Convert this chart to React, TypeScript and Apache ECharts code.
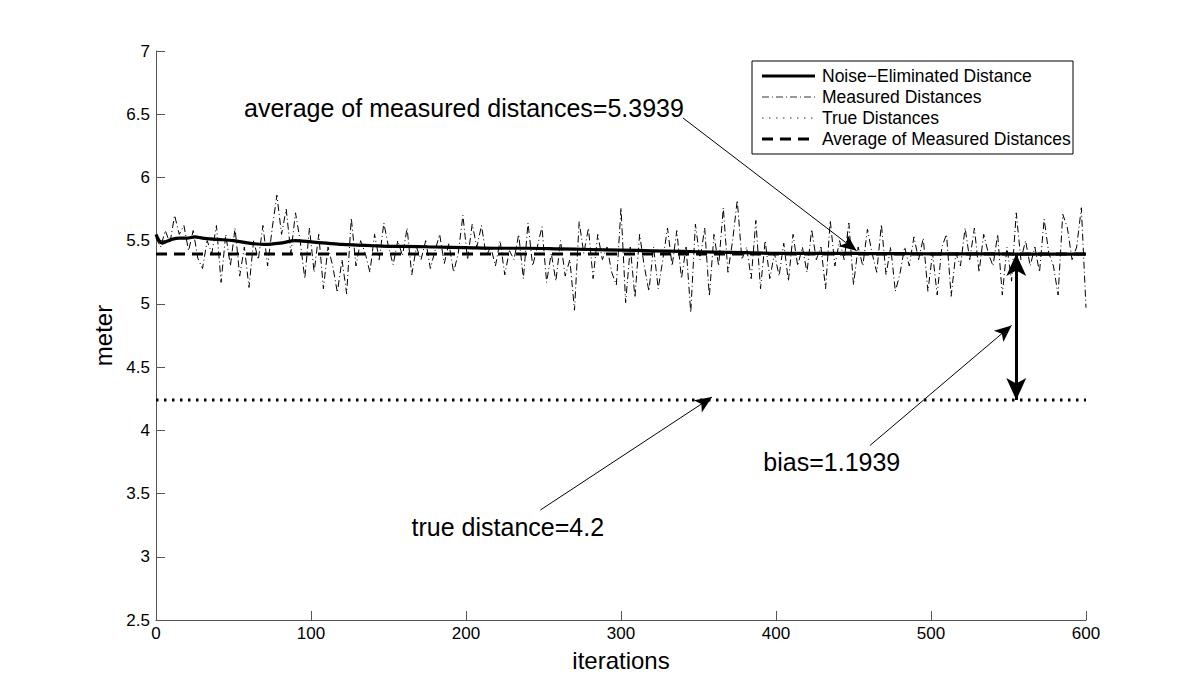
import React, { useEffect, useRef } from "react";
import * as echarts from "echarts";

// ---- data ----
const measuredStep = 3; // iterations between the sampled measured values
const measuredValues = [
  5.52, 5.45, 5.58, 5.48, 5.70, 5.55, 5.62, 5.42, 5.58, 5.36,
  5.28, 5.50, 5.40, 5.62, 5.17, 5.55, 5.30, 5.60, 5.22, 5.45,
  5.13, 5.50, 5.35, 5.62, 5.30, 5.60, 5.86, 5.55, 5.75, 5.40,
  5.72, 5.50, 5.20, 5.60, 5.25, 5.55, 5.12, 5.45, 5.30, 5.09,
  5.35, 5.08, 5.68, 5.30, 5.50, 5.40, 5.25, 5.55, 5.35, 5.64,
  5.45, 5.31, 5.50, 5.38, 5.60, 5.23, 5.45, 5.35, 5.50, 5.28,
  5.42, 5.55, 5.32, 5.48, 5.25, 5.40, 5.70, 5.35, 5.63, 5.45,
  5.62, 5.38, 5.45, 5.30, 5.50, 5.23, 5.42, 5.35, 5.55, 5.20,
  5.64, 5.30, 5.45, 5.61, 5.17, 5.40, 5.18, 5.50, 5.22, 5.35,
  4.95, 5.65, 5.40, 5.60, 5.20, 5.55, 5.35, 5.45, 5.25, 5.15,
  5.76, 5.01, 5.45, 5.05, 5.55, 5.30, 5.10, 5.45, 5.12, 5.35,
  5.60, 5.30, 5.58, 5.20, 5.45, 4.93, 5.63, 5.35, 5.60, 5.06,
  5.55, 5.30, 5.76, 5.25, 5.50, 5.82, 5.35, 5.45, 5.20, 5.66,
  5.12, 5.50, 5.20, 5.40, 5.22, 5.48, 5.18, 5.55, 5.30, 5.45,
  5.25, 5.59, 5.35, 5.45, 5.12, 5.66, 5.30, 5.50, 5.35, 5.64,
  5.15, 5.45, 5.30, 5.59, 5.40, 5.25, 5.63, 5.23, 5.45, 5.10,
  5.24, 5.45, 5.30, 5.53, 5.35, 5.52, 5.10, 5.40, 5.07, 5.45,
  5.55, 5.06, 5.40, 5.30, 5.60, 5.35, 5.60, 5.25, 5.55, 5.40,
  5.30, 5.55, 5.07, 5.45, 5.18, 5.72, 5.35, 5.50, 5.30, 5.45,
  5.25, 5.67, 5.40, 5.30, 5.07, 5.71, 5.60, 5.35, 5.45, 5.76,
  4.97,
];

const noiseIter = [
  0, 2, 4, 6, 8, 10, 15, 20, 25, 30, 40, 50, 60, 70, 80, 90, 100, 110, 120,
  130, 140, 150, 160, 180, 200, 220, 240, 260, 280, 300, 320, 340, 360, 380,
  400, 420, 440, 460, 480, 500, 520, 540, 560, 580, 600,
];
const noiseValues = [
  5.55, 5.5, 5.48, 5.49, 5.5, 5.51, 5.52, 5.52, 5.53, 5.52, 5.51, 5.5, 5.48,
  5.47, 5.48, 5.5, 5.49, 5.48, 5.47, 5.465, 5.46, 5.455, 5.455, 5.45, 5.445,
  5.44, 5.44, 5.435, 5.43, 5.425, 5.42, 5.415, 5.41, 5.405, 5.4, 5.4, 5.4,
  5.398, 5.397, 5.396, 5.395, 5.395, 5.394, 5.394, 5.394,
];

const xRange = [0, 600];
const trueDistance = 4.24;
const avgMeasured = 5.3939;
const biasIter = 555;

const legendNames = [
  "Noise\u2212Eliminated Distance",
  "Measured Distances",
  "True Distances",
  "Average of Measured Distances",
];

const FONT = "'Liberation Sans', Arial, Helvetica, sans-serif";

export default function App() {
  const ref = useRef<HTMLDivElement>(null);

  useEffect(() => {
    const chart = echarts.init(ref.current!, null, { renderer: "svg" });

    const measuredData = measuredValues.map((v, i) => [i * measuredStep, v]);
    const noiseData = noiseIter.map((x, i) => [x, noiseValues[i]]);

    const thinArrow = (from: number[], to: number[]) => [
      {
        coord: from,
        symbol: "none",
        lineStyle: { color: "#000", width: 1, type: "solid" },
      },
      { coord: to, symbol: "arrow", symbolSize: [11, 17] },
    ];

    const textPoint = (coord: number[], text: string) => ({
      coord,
      symbol: "rect",
      symbolSize: 0,
      label: {
        show: true,
        position: "inside",
        formatter: text,
        fontSize: 25,
        fontFamily: FONT,
        color: "#000",
      },
    });

    const legendY = [76, 97, 118, 139];
    const lx0 = 762;
    const lx1 = 815;

    const option: any = {
      animation: false,
      backgroundColor: "#fff",
      grid: { left: 156, top: 51, right: 114, bottom: 77, containLabel: false },
      xAxis: {
        type: "value",
        min: xRange[0],
        max: xRange[1],
        interval: 100,
        name: "iterations",
        nameLocation: "middle",
        nameGap: 28,
        nameTextStyle: { fontSize: 24, fontFamily: FONT, color: "#000" },
        axisLine: { show: true, lineStyle: { color: "#555", width: 1 } },
        axisTick: { show: true, inside: true, length: 9, lineStyle: { color: "#555" } },
        axisLabel: { fontSize: 17, fontFamily: FONT, color: "#000", margin: 5 },
        splitLine: { show: false },
      },
      yAxis: {
        type: "value",
        min: 2.5,
        max: 7,
        interval: 0.5,
        name: "meter",
        nameLocation: "middle",
        nameGap: 27,
        nameRotate: 90,
        nameTextStyle: { fontSize: 24, fontFamily: FONT, color: "#000" },
        axisLine: { show: true, lineStyle: { color: "#555", width: 1 } },
        axisTick: { show: true, inside: true, length: 9, lineStyle: { color: "#555" } },
        axisLabel: { fontSize: 17, fontFamily: FONT, color: "#000", margin: 6 },
        splitLine: { show: false },
      },
      series: [
        {
          name: legendNames[1],
          type: "line",
          data: measuredData,
          showSymbol: false,
          symbol: "none",
          lineStyle: { color: "#000", width: 1, type: [7, 3, 1, 3] },
          z: 2,
          silent: true,
        },
        {
          name: legendNames[2],
          type: "line",
          data: [
            [xRange[0], trueDistance],
            [xRange[1], trueDistance],
          ],
          symbol: "none",
          lineStyle: { color: "#000", width: 3, type: [2.5, 5.5] },
          z: 3,
          silent: true,
          markLine: {
            silent: true,
            animation: false,
            label: { show: false },
            data: [
              thinArrow([460.6, 3.88], [552, 4.83]),
              thinArrow([248, 3.37], [358.7, 4.263]),
              thinArrow([340, 6.47], [452, 5.42]),
              [
                {
                  coord: [biasIter, avgMeasured],
                  symbol: "arrow",
                  symbolSize: [15, 22],
                  lineStyle: { color: "#000", width: 3, type: "solid" },
                },
                { coord: [biasIter, trueDistance], symbol: "arrow", symbolSize: [15, 22] },
              ],
            ],
          },
          markPoint: {
            silent: true,
            animation: false,
            data: [
              textPoint([198.7, 6.547], "average of measured distances=5.3939"),
              textPoint([227, 3.235], "true distance=4.2"),
              textPoint([436, 3.749], "bias=1.1939"),
            ],
          },
        },
        {
          name: legendNames[3],
          type: "line",
          data: [
            [xRange[0], avgMeasured],
            [xRange[1], avgMeasured],
          ],
          symbol: "none",
          lineStyle: { color: "#000", width: 3, type: [11, 7] },
          z: 4,
          silent: true,
        },
        {
          name: legendNames[0],
          type: "line",
          data: noiseData,
          symbol: "none",
          smooth: 0.3,
          lineStyle: { color: "#000", width: 3.2 },
          z: 5,
          silent: true,
        },
      ],
      graphic: [
        {
          type: "rect",
          shape: { x: 752, y: 61, width: 321, height: 93 },
          style: { fill: "#fff", stroke: "#000", lineWidth: 1 },
          z: 100,
        },
        {
          type: "line",
          shape: { x1: lx0, y1: legendY[0], x2: lx1, y2: legendY[0] },
          style: { stroke: "#000", lineWidth: 3 },
          z: 101,
        },
        {
          type: "line",
          shape: { x1: lx0, y1: legendY[1], x2: lx1, y2: legendY[1] },
          style: { stroke: "#333", lineWidth: 1, lineDash: [7, 3, 1, 3] },
          z: 101,
        },
        {
          type: "line",
          shape: { x1: lx0, y1: legendY[2], x2: lx1, y2: legendY[2] },
          style: { stroke: "#333", lineWidth: 1, lineDash: [1.5, 5.5] },
          z: 101,
        },
        {
          type: "line",
          shape: { x1: lx0, y1: legendY[3], x2: lx1, y2: legendY[3] },
          style: { stroke: "#000", lineWidth: 3, lineDash: [11, 7] },
          z: 101,
        },
        ...legendNames.map((name, i) => ({
          type: "text",
          x: 822,
          y: legendY[i],
          style: {
            text: name,
            fontSize: 17.5,
            fontFamily: FONT,
            fill: "#000",
            verticalAlign: "middle",
            align: "left",
          },
          z: 101,
        })),
      ],
    };

    chart.setOption(option);
    return () => chart.dispose();
  }, []);

  return (
    <div
      ref={ref}
      style={{
        position: "fixed",
        left: 0,
        top: 0,
        width: 1200,
        height: 697,
        background: "#fff",
      }}
    />
  );
}
